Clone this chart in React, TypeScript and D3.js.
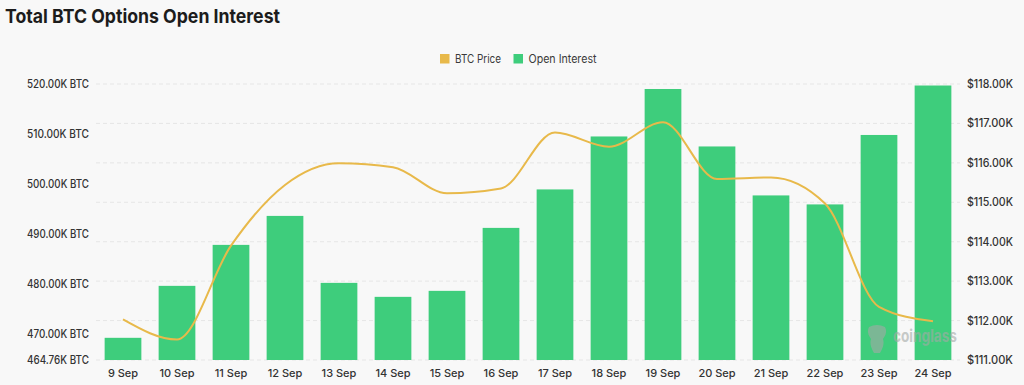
import React from 'react';
import * as d3 from 'd3';

// values
const dates = ['9 Sep', '10 Sep', '11 Sep', '12 Sep', '13 Sep', '14 Sep', '15 Sep', '16 Sep',
  '17 Sep', '18 Sep', '19 Sep', '20 Sep', '21 Sep', '22 Sep', '23 Sep', '24 Sep'];
const openInterest = [469.2, 479.6, 487.8, 493.6, 480.2, 477.4, 478.6, 491.2,
  498.9, 509.5, 519.0, 507.5, 497.7, 495.9, 509.8, 519.7]; // K BTC
const btcPrice = [112.03, 111.52, 113.9, 115.44, 115.99, 115.89, 115.23, 115.35,
  116.77, 116.41, 117.03, 115.59, 115.63, 114.97, 112.35, 111.98]; // $K
const leftTicks = [464.76, 470, 480, 490, 500, 510, 520];
const rightTicks = [111, 112, 113, 114, 115, 116, 117, 118];

const W = 1024, H = 385;
const margin = { left: 96, right: 64, top: 84, bottom: 25 };
const font = 'Inter, "Noto Sans", sans-serif';
const green = '#3ecd7c';
const gold = '#e8b94a';
const fmt = d3.format('.2f');

const App = () => {
  const x = d3.scaleBand<string>()
    .domain(dates)
    .range([margin.left, W - margin.right])
    .paddingInner(0.32)
    .paddingOuter(0.16);
  const yLeft = d3.scaleLinear().domain([464.76, 520]).range([H - margin.bottom, margin.top]);
  const yRight = d3.scaleLinear().domain([111, 118]).range([H - margin.bottom, margin.top]);

  const line = d3.line<number>()
    .x((_, i) => (x(dates[i]) ?? 0) + x.bandwidth() / 2)
    .y(d => yRight(d))
    .curve(d3.curveMonotoneX);

  return (
    <svg width={W} height={H} style={{ position: 'absolute', left: 0, top: 0, background: '#f8f8f8' }}
      fontFamily={font}>
      <rect width={W} height={H} fill="#f8f8f8" />
      <text x={5} y={23} fontSize={19} fontWeight={700} fill="#1c1c1c" textLength={275}
        lengthAdjust="spacingAndGlyphs">Total BTC Options Open Interest</text>

      {/* legend */}
      <g fontSize={11.5} fill="#3a3a3a">
        <rect x={440} y={54} width={9.5} height={9.5} fill={gold} />
        <text x={455} y={62.5} textLength={46} lengthAdjust="spacingAndGlyphs">BTC Price</text>
        <rect x={513.5} y={54} width={9.5} height={9.5} fill={green} />
        <text x={528.5} y={62.5} textLength={68} lengthAdjust="spacingAndGlyphs">Open Interest</text>
      </g>

      {/* grid */}
      {rightTicks.map(t => (
        <line key={t} x1={margin.left} x2={W - margin.right} y1={yRight(t)} y2={yRight(t)}
          stroke="#e6e6e6" strokeDasharray="4 3" />
      ))}

      {/* bars */}
      {openInterest.map((v, i) => (
        <rect key={dates[i]} x={x(dates[i])} y={yLeft(v)} width={x.bandwidth()}
          height={yLeft(464.76) - yLeft(v)} fill={green} />
      ))}

      {/* price line */}
      <path d={line(btcPrice) ?? ''} fill="none" stroke={gold} strokeWidth={2} />

      {/* watermark */}
      <g opacity={0.6} fill="#a5aaa7">
        <path d="M869,327 q8,-4 16,0 q3,6 -2,12 q2,6 -3,14 h-6 q-5,-8 -3,-14 q-5,-6 -2,-12 z" />
        <text x={893} y={342} fontSize={17} fontWeight={700} textLength={64}
          lengthAdjust="spacingAndGlyphs">coinglass</text>
      </g>

      {/* left axis */}
      <g fontSize={11.5} fill="#333" fontWeight={500}>
        {leftTicks.map(t => (
          <text key={t} x={89} y={yLeft(t)} textAnchor="end" dominantBaseline="central"
            textLength={62} lengthAdjust="spacingAndGlyphs">
            {`${fmt(t)}K BTC`}
          </text>
        ))}
      </g>

      {/* right axis */}
      <g fontSize={11.5} fill="#333" fontWeight={500}>
        {rightTicks.map(t => (
          <text key={t} x={967} y={yRight(t)} dominantBaseline="central"
            textLength={46} lengthAdjust="spacingAndGlyphs">
            {`$${fmt(t)}K`}
          </text>
        ))}
      </g>

      {/* x axis */}
      <g fontSize={11} fill="#333" fontWeight={500}>
        {dates.map(d => (
          <text key={d} x={(x(d) ?? 0) + x.bandwidth() / 2} y={373} textAnchor="middle"
            dominantBaseline="central">{d}</text>
        ))}
      </g>
    </svg>
  );
};

export default App;
